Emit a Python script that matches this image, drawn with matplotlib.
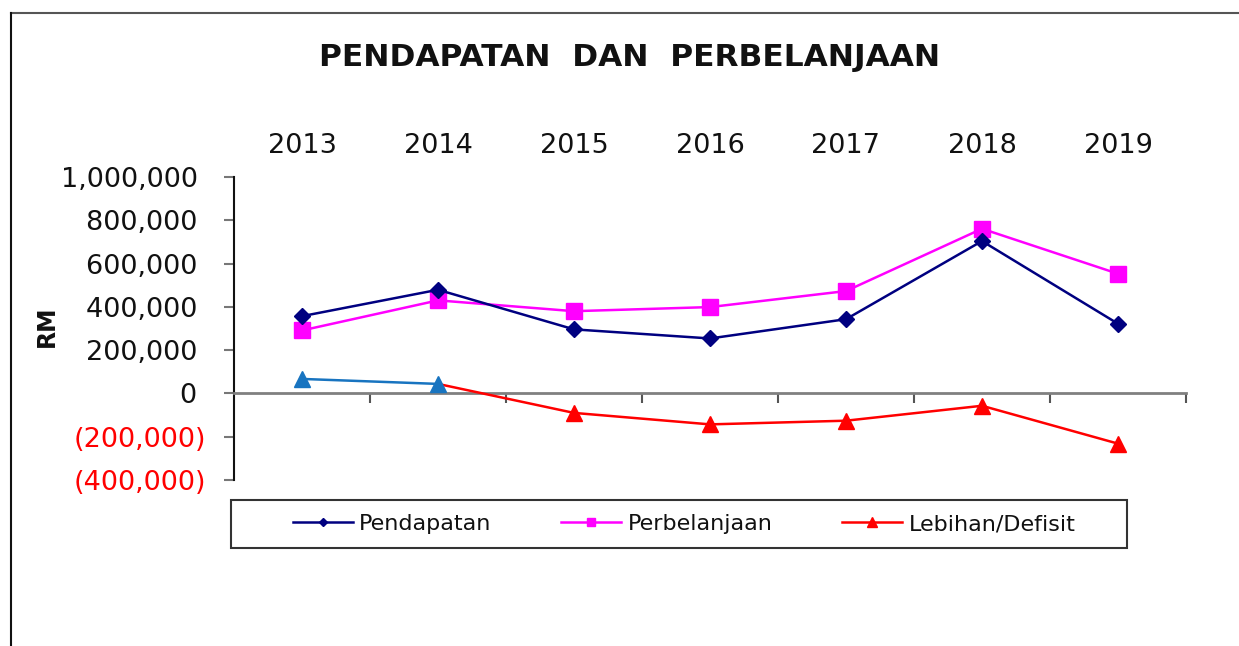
import matplotlib
matplotlib.use("Agg")
import matplotlib.pyplot as plt
from matplotlib.lines import Line2D
from matplotlib.patches import Rectangle
from matplotlib.ticker import FixedLocator, FuncFormatter

years = ['2013', '2014', '2015', '2016', '2017', '2018', '2019']
pendapatan = [357000, 479000, 296000, 254000, 343000, 704000, 322000]
perbelanjaan = [291000, 430000, 380000, 399000, 473000, 761000, 553000]
lebihan = [67000, 44000, -90000, -143000, -126000, -57000, -232000]
yticks = [-400000, -200000, 0, 200000, 400000, 600000, 800000, 1000000]

plt.rcParams['font.family'] = ['DejaVu Sans']

W, H = 1239, 646
fig = plt.figure(figsize=(W / 100, H / 100), dpi=100)
fig.patch.set_facecolor('white')

def fx(px):
    return px / W

def fy(py):
    return 1 - py / H

ax = fig.add_axes([fx(234), fy(480), fx(1186) - fx(234), fy(177) - fy(480)])
x = list(range(len(years)))

NAVY = '#000080'
MAG = '#FF00FF'
RED = '#FF0000'
BLUE = '#1874C0'

ax.plot(x, pendapatan, color=NAVY, lw=1.8, marker='D', ms=8, mfc=NAVY, mec=NAVY,
        label='Pendapatan', zorder=4)
ax.plot(x, perbelanjaan, color=MAG, lw=1.8, marker='s', ms=11, mfc=MAG, mec=MAG,
        label='Perbelanjaan', zorder=3)
# deficit portion (red) and surplus portion (blue)
ax.plot(x[1:], lebihan[1:], color=RED, lw=1.8, marker='^', ms=12, mfc=RED, mec=RED,
        markevery=list(range(1, len(x) - 1)), label='Lebihan/Defisit', zorder=3)
ax.plot(x[:2], lebihan[:2], color=BLUE, lw=1.8, marker='^', ms=12, mfc=BLUE, mec=BLUE,
        zorder=3)

ax.set_xlim(-0.5, len(years) - 0.5)
ax.set_ylim(-400000, 1000000)

# spines
for s in ['top', 'right']:
    ax.spines[s].set_visible(False)
ax.spines['left'].set_color('#111111')
ax.spines['left'].set_linewidth(1.5)
ax.spines['bottom'].set_position(('data', 0))
ax.spines['bottom'].set_color('#808080')
ax.spines['bottom'].set_linewidth(2)

# x ticks at category boundaries, no labels
ax.xaxis.set_major_locator(FixedLocator([i + 0.5 for i in x]))
ax.tick_params(axis='x', direction='out', length=7, width=1.5, color='#555555',
               labelbottom=False)

# y ticks
def yfmt(v, pos):
    v = int(round(v))
    if v < 0:
        return '({:,})'.format(-v)
    if v == 0:
        return '0 '
    return '{:,} '.format(v)

ax.yaxis.set_major_locator(FixedLocator(yticks))
ax.yaxis.set_major_formatter(FuncFormatter(yfmt))
ax.tick_params(axis='y', direction='out', length=7, width=1.5, color='#777777',
               labelsize=19.5, pad=13, labelcolor='#111111')
fig.canvas.draw()
for lab, v in zip(ax.get_yticklabels(), yticks):
    if v < 0:
        lab.set_color(RED)

# year labels on top
sec = ax.secondary_xaxis('top')
sec.set_xticks(x)
sec.set_xticklabels(years)
sec.tick_params(axis='x', length=0, labelsize=19.5, pad=13, labelcolor='#111111')
sec.spines['top'].set_visible(False)

# title and axis label
fig.text(fx(630), fy(57), 'PENDAPATAN  DAN  PERBELANJAAN', ha='center', va='center',
         fontsize=22.5, fontweight='bold', color='#111111')
fig.text(fx(47), fy(326), 'RM', ha='center', va='center', rotation=90,
         fontsize=17, fontweight='bold', color='#111111')

# legend
leg = ax.legend(loc='center', bbox_to_anchor=(fx(684), fy(524)),
                bbox_transform=fig.transFigure, ncol=3, frameon=False,
                fontsize=16, handlelength=2.7, handletextpad=0.28,
                columnspacing=3.15, markerscale=0.55)
for t in leg.get_texts():
    t.set_color('#111111')
fig.add_artist(Rectangle((fx(231), fy(548)), fx(1127) - fx(231), fy(500) - fy(548),
                         transform=fig.transFigure, fill=False,
                         edgecolor='#333333', lw=1.5))

# outer frame (top and left)
fig.add_artist(Line2D([fx(11), 1.0], [fy(13), fy(13)], transform=fig.transFigure,
                      color='#555555', lw=1.5))
fig.add_artist(Line2D([fx(11), fx(11)], [fy(13), 0.0], transform=fig.transFigure,
                      color='#111111', lw=1.5))

fig.savefig('out.png', dpi=100, facecolor='white')
